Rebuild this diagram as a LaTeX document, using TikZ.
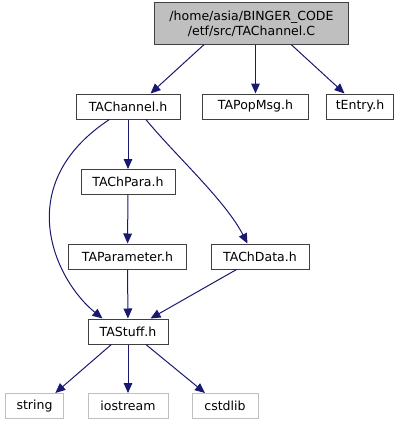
\documentclass[tikz,border=0pt]{standalone}
\usepackage{fontspec}
\setmainfont{DejaVu Sans}
\usetikzlibrary{arrows.meta}
\definecolor{edgeblue}{HTML}{191970}
\begin{document}
\begin{tikzpicture}[x=0.75pt, y=-0.75pt, font=\fontsize{9.4}{11.2}\selectfont, line width=0.75pt, >={Triangle[length=7.5pt,width=6.5pt]},
  hdr/.style={draw=black!75, fill=white, inner sep=0pt, minimum height=18.75pt},
  syshdr/.style={hdr, draw=black!25},
  roothdr/.style={hdr, fill=black!25, align=center, minimum width=145pt, minimum height=31pt},
  incl/.style={->, draw=edgeblue}]
  \useasboundingbox (0,0) rectangle (403,425);
  \node[roothdr] (root) at (251.5,23.5) {/home/asia/BINGER\_CODE\\/etf/src/TAChannel.C};
  \node[hdr, minimum width=78pt] (chan) at (128,106.5) {TAChannel.h};
  \node[hdr, minimum width=79pt] (popmsg) at (255.5,106.5) {TAPopMsg.h};
  \node[hdr, minimum width=50pt] (tentry) at (360,106.5) {tEntry.h};
  \node[hdr, minimum width=70.5pt] (chpara) at (128,182) {TAChPara.h};
  \node[hdr, minimum width=88pt] (param) at (127.5,256.5) {TAParameter.h};
  \node[hdr, minimum width=73.5pt] (chdata) at (260,256.5) {TAChData.h};
  \node[hdr, minimum width=60pt] (stuff) at (128,331.5) {TAStuff.h};
  \node[syshdr, minimum width=44pt] (string) at (34.5,406) {string};
  \node[syshdr, minimum width=60pt] (iostream) at (128,406) {iostream};
  \node[syshdr, minimum width=49.5pt] (cstdlib) at (225,406) {cstdlib};
  % include edges
  \draw[incl] (root.-156) -- (chan.30);
  \draw[incl] (root.south -| popmsg.north) -- (popmsg.north);
  \draw[incl] (root.-28) -- (tentry.140);
  \draw[incl] (chan) -- (chpara);
  \draw[incl] (chan.-145) .. controls (10,185) and (55,280) .. (stuff.153);
  \draw[incl] (chan.-36) .. controls (175,155) and (225,200) .. (chdata.134);
  \draw[incl] (chpara) -- (param);
  \draw[incl] (param) -- (stuff);
  \draw[incl] (chdata.-151) -- (stuff.30);
  \draw[incl] (stuff.-142) -- (string.32);
  \draw[incl] (stuff) -- (iostream);
  \draw[incl] (stuff.-36) -- (cstdlib.147);
\end{tikzpicture}
\end{document}
